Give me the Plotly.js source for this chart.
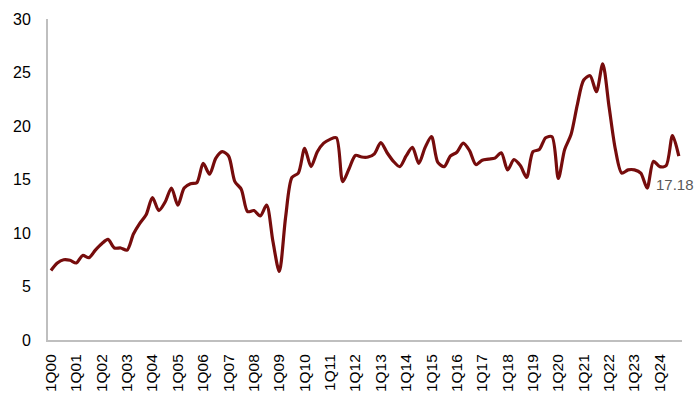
<!DOCTYPE html>
<html>
<head>
<meta charset="utf-8">
<script src="https://cdn.plot.ly/plotly-3.0.1.min.js"></script>
<style>html,body{margin:0;padding:0;background:#fff;}#chart{width:700px;height:395px;}</style>
</head>
<body>
<div id="chart"></div>
<script>
// Quarters 1Q00 .. 4Q24
const years = ["00","01","02","03","04","05","06","07","08","09","10","11","12","13","14","15","16","17","18","19","20","21","22","23","24"];
const quarterNames = ["1Q","2Q","3Q","4Q"];
const categories = [];
years.forEach(y => quarterNames.forEach(q => categories.push(q + y)));

const values = [
  6.5, 7.2, 7.5, 7.45, 7.2, 7.9, 7.7, 8.4, 9.0, 9.4,
  8.6, 8.6, 8.4, 9.9, 10.9, 11.7, 13.3, 12.1, 12.9, 14.2,
  12.6, 14.2, 14.6, 14.7, 16.5, 15.5, 17.0, 17.6, 17.2, 14.8,
  14.1, 12.0, 12.1, 11.6, 12.6, 9.2, 6.4, 11.5, 15.2, 15.6,
  17.9, 16.2, 17.6, 18.4, 18.75, 18.9, 14.8, 16.0, 17.25, 17.1,
  17.1, 17.4, 18.45, 17.5, 16.7, 16.2, 17.2, 18.0, 16.5, 18.0,
  19.0, 16.6, 16.2, 17.2, 17.55, 18.4, 17.7, 16.4, 16.8, 16.9,
  17.0, 17.5, 15.9, 16.85, 16.3, 15.2, 17.6, 17.8, 18.9, 19.0,
  15.1, 17.8, 19.2, 22.0, 24.3, 24.7, 23.2, 25.8, 21.8, 17.8,
  15.6, 15.9, 15.9, 15.6, 14.2, 16.7, 16.2, 16.3, 19.1, 17.18
];

const tickLabels = categories.filter(c => c.startsWith("1Q"));
const lastLabel = "17.18";

const trace = {
  x: categories,
  y: values,
  type: "scatter",
  mode: "lines",
  line: {color: "#760c0c", width: 3.2, shape: "spline", smoothing: 0.8},
  hoverinfo: "skip"
};

const layout = {
  width: 700, height: 395,
  margin: {l: 48, r: 18, t: 19, b: 55},
  paper_bgcolor: "#ffffff",
  plot_bgcolor: "#ffffff",
  showlegend: false,
  font: {family: "Liberation Sans, Arial, sans-serif", color: "#000000"},
  xaxis: {
    type: "category",
    range: [-0.47, 99.5],
    tickmode: "array",
    tickvals: tickLabels,
    ticktext: tickLabels,
    tickangle: -90,
    tickfont: {size: 15.5, color: "#000000"},
    showgrid: false,
    zeroline: false,
    showline: true,
    linecolor: "#bfbfbf",
    linewidth: 2,
    ticks: "",
    ticklabelstandoff: 6
  },
  yaxis: {
    range: [0, 30],
    tickvals: [0, 5, 10, 15, 20, 25, 30],
    tickfont: {size: 16, color: "#000000"},
    showgrid: false,
    zeroline: false,
    showline: true,
    linecolor: "#bfbfbf",
    linewidth: 2,
    ticks: "",
    ticklabelstandoff: 12
  },
  annotations: [{
    x: categories[categories.length - 1],
    y: values[values.length - 1],
    text: lastLabel,
    showarrow: false,
    xanchor: "center",
    yanchor: "middle",
    xshift: -4,
    yshift: -28,
    font: {size: 15, color: "#595959"}
  }]
};

Plotly.newPlot("chart", [trace], layout, {displayModeBar: false, staticPlot: true});
</script>
</body>
</html>
